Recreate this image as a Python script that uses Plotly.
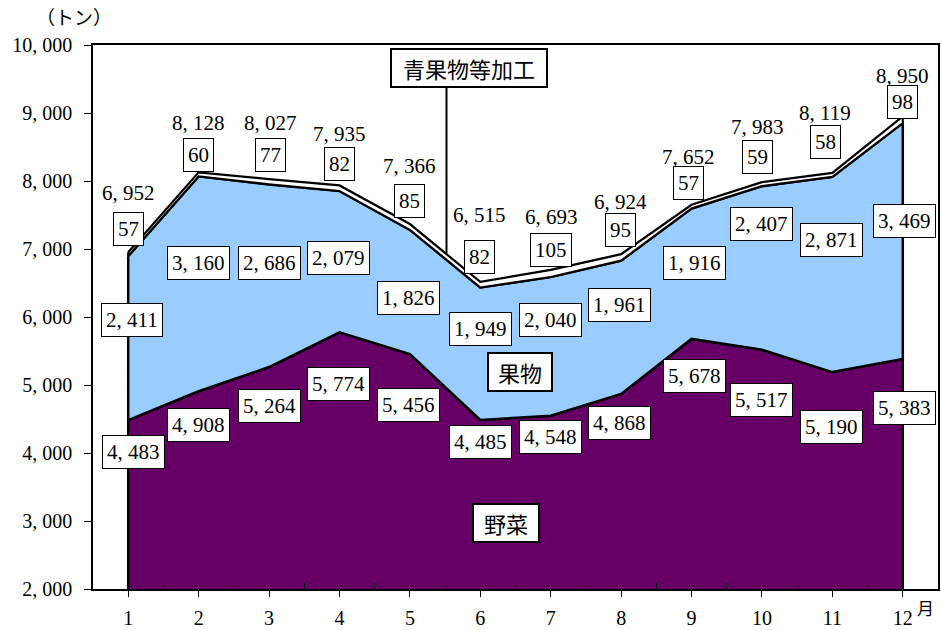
import plotly.graph_objects as go

months = [1, 2, 3, 4, 5, 6, 7, 8, 9, 10, 11, 12]
month_labels = ["1", "2", "3", "4", "5", "6", "7", "8", "9", "10", "11", "12"]
vegetables = [4483, 4908, 5264, 5774, 5456, 4485, 4548, 4868, 5678, 5517, 5190, 5383]
fruits = [2411, 3160, 2686, 2079, 1826, 1949, 2040, 1961, 1916, 2407, 2871, 3469]
processed = [57, 60, 77, 82, 85, 82, 105, 95, 57, 59, 58, 98]
totals = [6952, 8128, 8027, 7935, 7366, 6515, 6693, 6924, 7652, 7983, 8119, 8950]
y_ticks = [2000, 3000, 4000, 5000, 6000, 7000, 8000, 9000, 10000]
y_tick_labels = ["2, 000", "3, 000", "4, 000", "5, 000", "6, 000", "7, 000",
                 "8, 000", "9, 000", "10, 000"]

# label placement (layout only)
veg_label_y = [4015, 4412, 4691, 5015, 4713, 4162, 4235, 4441, 5132, 4779, 4382, 4662]
fruit_label_y = [5956, 6794, 6794, 6868, 6279, 5824, 5956, 6176, 6794, 7368, 7132, 7412]
proc_label_y = [7294, 8382, 8382, 8250, 7706, 6882, 6985, 7279, 7971, 8353, 8574, 9162]
proc_label_x = [1.0, 2.0, 3.02, 4.0, 5.0, 5.99, 7.01, 7.99, 8.95, 9.93, 10.9, 12.0]
total_label_y = [7824, 8853, 8853, 8691, 8221, 7500, 7471, 7691, 8353, 8794, 9000, 9544]
veg_label_x = [1.08, 2.0, 3.0, 3.99, 4.98, 6.0, 6.99, 7.98, 9.04, 10.0, 10.99, 12.03]
fruit_label_x = [1.06, 2.0, 3.0, 3.99, 4.98, 6.0, 6.99, 7.98, 9.04, 10.0, 10.99, 12.03]

vf = [v + f for v, f in zip(vegetables, fruits)]
top = [a + p for a, p in zip(vf, processed)]

def fmt(v):
    return f"{v:,}".replace(",", ", ")

FONT = "Liberation Serif, Noto Sans CJK JP, serif"
JFONT = "Noto Sans CJK JP, Liberation Serif, serif"

fig = go.Figure()
fig.add_trace(go.Scatter(
    x=months + [12, 1, 1], y=vegetables + [0, 0, vegetables[0]], fill="toself",
    fillcolor="#660066", line=dict(color="black", width=2.5), mode="lines",
    hoverinfo="skip"))
fig.add_trace(go.Scatter(
    x=months + months[::-1] + [1], y=vf + vegetables[::-1] + [vf[0]], fill="toself",
    fillcolor="#99CCFF", line=dict(color="black", width=2.5), mode="lines",
    hoverinfo="skip"))
fig.add_trace(go.Scatter(
    x=months + months[::-1] + [1], y=top + vf[::-1] + [top[0]], fill="toself",
    fillcolor="white", line=dict(color="black", width=2.2), mode="lines",
    hoverinfo="skip"))

ann = []
box = dict(bgcolor="white", bordercolor="black", borderwidth=1, borderpad=4,
           showarrow=False, font=dict(family=FONT, size=21, color="black"))
for i, m in enumerate(months):
    ann.append(dict(x=veg_label_x[i], y=veg_label_y[i], text=fmt(vegetables[i]), **box))
    ann.append(dict(x=fruit_label_x[i], y=fruit_label_y[i], text=fmt(fruits[i]), **box))
    ann.append(dict(x=proc_label_x[i], y=proc_label_y[i], text=fmt(processed[i]), **box))
    ann.append(dict(x=proc_label_x[i], y=total_label_y[i], text=fmt(totals[i]),
                    showarrow=False, font=dict(family=FONT, size=21, color="black")))

big = dict(bgcolor="white", bordercolor="black", borderwidth=2, borderpad=2,
           showarrow=False, font=dict(family=JFONT, size=22, color="black"))
ann.append(dict(x=6.57, y=5191, text="果物", width=58, **big))
ann.append(dict(x=6.37, y=2971, text="野菜", width=60, **big))
ann.append(dict(x=5.84, y=9662, text="青果物等加工", width=150, **big))
ann.append(dict(xref="paper", yref="paper", x=-0.07, y=1.0, yshift=13,
                xanchor="left", yanchor="bottom", text="（トン）", showarrow=False,
                font=dict(family=JFONT, size=19, color="black")))
ann.append(dict(xref="paper", yref="paper", x=0.998, y=0, yshift=-4,
                xanchor="right", yanchor="top", text="月", showarrow=False,
                font=dict(family=JFONT, size=17, color="black")))

fig.add_shape(type="line", x0=5.52, x1=5.52, y0=6935, y1=9560,
              line=dict(color="black", width=2))

fig.update_layout(
    width=941, height=630,
    margin=dict(l=93, r=1, t=45, b=41),
    paper_bgcolor="white", plot_bgcolor="white",
    showlegend=False,
    annotations=ann,
    font=dict(family=FONT, size=20, color="black"),
    xaxis=dict(range=[0.5, 12.5], tickvals=months, ticktext=month_labels,
               ticks="outside", ticklen=6, tickcolor="black", ticklabelstandoff=4,
               showline=True, linecolor="black", linewidth=2, mirror=True,
               showgrid=False, zeroline=False,
               minor=dict(tickvals=[m + 0.5 for m in months[:-1]], ticks="inside",
                          ticklen=6, tickcolor="black"),
               tickfont=dict(family=FONT, size=20)),
    yaxis=dict(range=[2000, 10000], tickvals=y_ticks, ticktext=y_tick_labels,
               ticks="outside", ticklen=7, tickcolor="black", ticklabelstandoff=8,
               showline=True, linecolor="black", linewidth=1.5, mirror=True,
               showgrid=False, zeroline=False,
               tickfont=dict(family=FONT, size=20)),
)
fig.write_html("out.html", config={"displayModeBar": False},
               post_script="document.body.style.margin='0';document.body.style.padding='0';")
